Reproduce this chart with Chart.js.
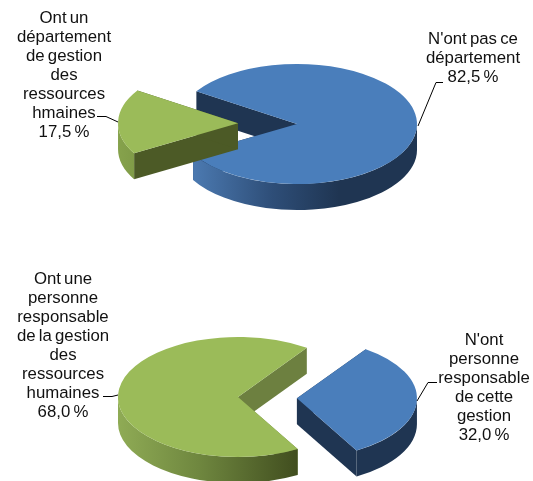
<!DOCTYPE html>
<html><head><meta charset="utf-8">
<script src="https://cdn.jsdelivr.net/npm/chart.js@4"></script>
<style>
html,body{margin:0;padding:0;background:#fff;width:533px;height:481px;overflow:hidden}
#wrap{position:relative;width:533px;height:481px}
canvas{position:absolute;left:0}
.lab{position:absolute;transform:translateX(-50%);text-align:center;white-space:nowrap;font:16.8px/19px "Liberation Sans",Arial,sans-serif;color:#111;word-spacing:-1.5px}
</style></head><body>
<div id="wrap">
<canvas id="c1" width="533" height="240" style="top:0"></canvas>
<canvas id="c2" width="533" height="241" style="top:240px"></canvas>
</div>
<script>
// Data
const categoriesTop = ["N'ont pas ce département", "Ont un département de gestion des ressources hmaines"];
const valuesTop = [82.5, 17.5];
const categoriesBottom = ["N'ont personne responsable de cette gestion", "Ont une personne responsable de la gestion des ressources humaines"];
const valuesBottom = [32.0, 68.0];
const labelsTop = [
  ["N'ont pas ce","département","82,5 %"],
  ["Ont un","département","de gestion","des","ressources","hmaines","17,5 %"]
];
const labelsBottom = [
  ["N'ont","personne","responsable","de cette","gestion","32,0 %"],
  ["Ont une","personne","responsable","de la gestion","des","ressources","humaines","68,0 %"]
];

const SQ = 0.5, DEPTH = 26, RADIUS = 120, EXPLODE = 59;

function pie3d(cfg) {
  return {
    id: 'pie3d',
    beforeDatasetDraw(chart) {
      const ctx = chart.ctx;
      const arcs = chart.getDatasetMeta(0).data;
      cfg.order.forEach(i => {
        const a = arcs[i], s = cfg.walls[i];
        const mid = (a.startAngle + a.endAngle) / 2;
        const cx = a.x + Math.cos(mid) * cfg.explode[i];
        const cy = a.y + Math.sin(mid) * cfg.explode[i] * SQ;
        const r = a.outerRadius;
        const px = t => cx + Math.cos(t) * r, py = t => cy + Math.sin(t) * r * SQ;
        // radial walls
        [a.startAngle, a.endAngle].forEach(t => {
          ctx.beginPath();
          ctx.moveTo(cx, cy); ctx.lineTo(px(t), py(t));
          ctx.lineTo(px(t), py(t) + DEPTH); ctx.lineTo(cx, cy + DEPTH);
          ctx.closePath(); ctx.fillStyle = s.radial; ctx.fill();
        });
        // outer wall: only the part of the rim facing the viewer
        const g = ctx.createLinearGradient(s.x0, 0, s.x1, 0);
        s.stops.forEach(([p, c]) => g.addColorStop(p, c));
        for (let k = -2; k <= 2; k++) {
          const lo = Math.max(a.startAngle, 2 * Math.PI * k);
          const hi = Math.min(a.endAngle, 2 * Math.PI * k + Math.PI);
          if (hi <= lo) continue;
          ctx.beginPath();
          ctx.ellipse(cx, cy, r, r * SQ, 0, lo, hi);
          ctx.ellipse(cx, cy + DEPTH, r, r * SQ, 0, hi, lo, true);
          ctx.closePath(); ctx.fillStyle = g; ctx.fill();
        }
        // top face, drawn by the library's own arc element
        ctx.save();
        ctx.translate(cx, cy); ctx.scale(1, SQ); ctx.translate(-a.x, -a.y);
        a.draw(ctx);
        ctx.restore();
      });
      return false;
    },
    afterDatasetsDraw(chart) {
      const ctx = chart.ctx;
      ctx.strokeStyle = '#000'; ctx.lineWidth = 1;
      cfg.leaders.forEach(l => {
        ctx.beginPath();
        l.forEach(([x, y], n) => n ? ctx.lineTo(x, y) : ctx.moveTo(x, y));
        ctx.stroke();
      });
    }
  };
}

function make(id, cats, vals, rot, pad, cfg) {
  new Chart(document.getElementById(id), {
    type: 'pie',
    data: { labels: cats, datasets: [{ data: vals, backgroundColor: ['#4a7ebb', '#9bbb59'], borderWidth: 0 }] },
    options: {
      responsive: false, animation: false, rotation: rot, radius: RADIUS,
      layout: { padding: pad },
      plugins: { legend: { display: false }, tooltip: { enabled: false }, title: { display: false } }
    },
    plugins: [pie3d(cfg)]
  });
}

make('c1', categoriesTop, valuesTop, 303, { left: 61, top: 8 }, {
  order: [0, 1], explode: [0, EXPLODE],
  walls: [
    { radial: '#1f3552', x0: 194, x1: 417, stops: [[0, '#4b79b0'], [0.35, '#2e4e78'], [0.65, '#1f3552'], [1, '#1f3552']] },
    { radial: '#4c5a26', x0: 118, x1: 180, stops: [[0, '#86a24c'], [1, '#6f8a3c']] }
  ],
  leaders: [[[418, 126], [436, 82.5], [443, 82.5]], [[97, 116.5], [106, 116.5], [118, 122]]]
});
make('c2', categoriesBottom, valuesBottom, 35, { right: 57, top: 73 }, {
  order: [1, 0], explode: [EXPLODE, 0],
  walls: [
    { radial: '#1f3552', x0: 297, x1: 417, stops: [[0, '#1f3552'], [1, '#1f3552']] },
    { radial: '#6d8040', x0: 118, x1: 297, stops: [[0, '#8fab55'], [0.45, '#6f873f'], [1, '#414e1f']] }
  ],
  leaders: [[[417, 161], [428, 142.5], [437, 142.5]], [[103, 156.5], [112, 156.5], [118, 155]]]
});

function place(lines, x, firstCenterY) {
  const d = document.createElement('div');
  d.className = 'lab';
  d.style.left = x + 'px';
  d.style.top = (firstCenterY - 9.5) + 'px';
  d.innerHTML = lines.join('<br>');
  document.getElementById('wrap').appendChild(d);
}
place(labelsTop[0], 473, 38);
place(labelsTop[1], 64, 17);
place(labelsBottom[0], 484, 339);
place(labelsBottom[1], 63, 278);
</script>
</body></html>
